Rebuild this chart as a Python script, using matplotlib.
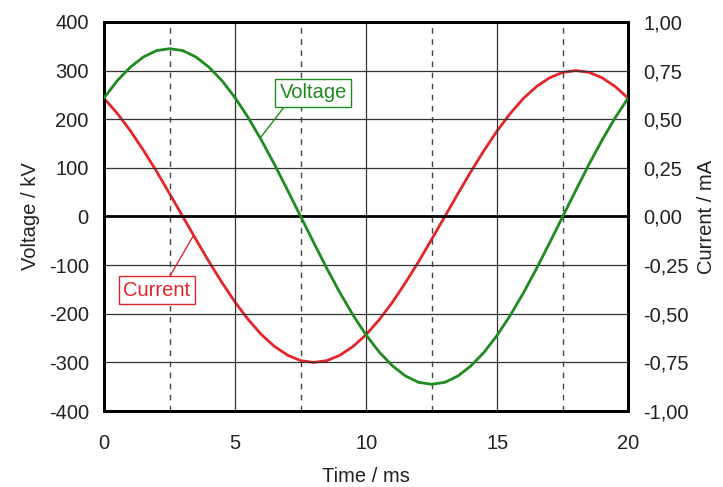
import matplotlib
matplotlib.use("Agg")
import matplotlib.pyplot as plt
from matplotlib.ticker import FuncFormatter, MultipleLocator

plt.rcParams['font.family'] = ['Liberation Sans', 'DejaVu Sans']
plt.rcParams['axes.unicode_minus'] = False

# Data (time in ms, voltage in kV, current in mA)
time_ms = [0.0, 0.5, 1.0, 1.5, 2.0, 2.5, 3.0, 3.5, 4.0, 4.5, 5.0, 5.5, 6.0, 6.5, 7.0,
           7.5, 8.0, 8.5, 9.0, 9.5, 10.0, 10.5, 11.0, 11.5, 12.0, 12.5, 13.0, 13.5,
           14.0, 14.5, 15.0, 15.5, 16.0, 16.5, 17.0, 17.5, 18.0, 18.5, 19.0, 19.5, 20.0]
voltage_kv = [244, 279, 307, 328, 341, 345, 341, 328, 307, 279, 244, 203, 157, 107, 54,
              0, -54, -107, -157, -203, -244, -279, -307, -328, -341, -345, -341, -328,
              -307, -279, -244, -203, -157, -107, -54, 0, 54, 107, 157, 203, 244]
current_ma = [0.607, 0.530, 0.441, 0.340, 0.232, 0.117, 0.000, -0.117, -0.232, -0.340,
              -0.441, -0.530, -0.607, -0.668, -0.713, -0.741, -0.750, -0.741, -0.713,
              -0.668, -0.607, -0.530, -0.441, -0.340, -0.232, -0.117, 0.000, 0.117,
              0.232, 0.340, 0.441, 0.530, 0.607, 0.668, 0.713, 0.741, 0.750, 0.741,
              0.713, 0.668, 0.607]

x_ticks = [0, 5, 10, 15, 20]
v_ticks = [-400, -300, -200, -100, 0, 100, 200, 300, 400]
dashed_x = [2.5, 7.5, 12.5, 17.5]

green = '#1f8a1f'
red = '#e3262b'
txt = '#222222'
fs = 14.5

fig = plt.figure(figsize=(7.23, 4.87), dpi=100)
ax = fig.add_axes([0.144, 0.156, 0.725, 0.799])
ax2 = ax.twinx()

ax.set_xlim(0, 20)
ax.set_ylim(-400, 400)
ax2.set_ylim(-1.0, 1.0)

ax.set_xticks(x_ticks)
ax.set_yticks(v_ticks)
ax2.yaxis.set_major_locator(MultipleLocator(0.25))
ax2.yaxis.set_major_formatter(FuncFormatter(lambda v, p: f"{v:.2f}".replace('.', ',')))

# grid
for xv in x_ticks[1:-1]:
    ax.axvline(xv, color='#333333', lw=0.9, zorder=1)
for yv in v_ticks[1:-1]:
    if yv != 0:
        ax.axhline(yv, color='#333333', lw=0.9, zorder=1)
for xv in dashed_x:
    ax.axvline(xv, color='#444444', lw=1.0, ls=(0, (4, 4)), zorder=1)
ax.axhline(0, color='black', lw=2.0, zorder=2)

ax.plot(time_ms, voltage_kv, color=green, lw=2.0, zorder=4)
ax2.plot(time_ms, current_ma, color=red, lw=2.0, zorder=4)

for a in (ax, ax2):
    for s in a.spines.values():
        s.set_linewidth(2.0)
        s.set_color('black')

ax.tick_params(axis='both', length=0, labelsize=fs, colors=txt)
ax.tick_params(axis='y', pad=11)
ax.tick_params(axis='x', pad=16.5)
ax2.tick_params(axis='y', length=0, labelsize=fs, colors=txt, pad=11)

ax.set_xlabel('Time / ms', fontsize=fs, color=txt, labelpad=10)
ax.set_ylabel('Voltage / kV', fontsize=fs, color=txt, labelpad=6)
ax2.set_ylabel('Current / mA', fontsize=fs, color=txt, labelpad=6)

ax.annotate('Voltage', xy=(5.95, 161), xytext=(7.98, 254), textcoords='data',
            fontsize=fs, color=green, ha='center', va='center', zorder=6,
            bbox=dict(boxstyle='square,pad=0.22', fc='white', ec=green, lw=1.0),
            arrowprops=dict(arrowstyle='-', color=green, lw=1.0, relpos=(0.12, 0.0),
                            shrinkA=0, shrinkB=0))
ax.annotate('Current', xy=(3.4, -40), xytext=(2.02, -152), textcoords='data',
            fontsize=fs, color=red, ha='center', va='center', zorder=6,
            bbox=dict(boxstyle='square,pad=0.22', fc='white', ec=red, lw=1.0),
            arrowprops=dict(arrowstyle='-', color=red, lw=1.0, relpos=(0.65, 1.0),
                            shrinkA=0, shrinkB=0))

ax.set_zorder(ax2.get_zorder() + 1)
ax.patch.set_visible(False)

fig.savefig('out.png', dpi=100)
